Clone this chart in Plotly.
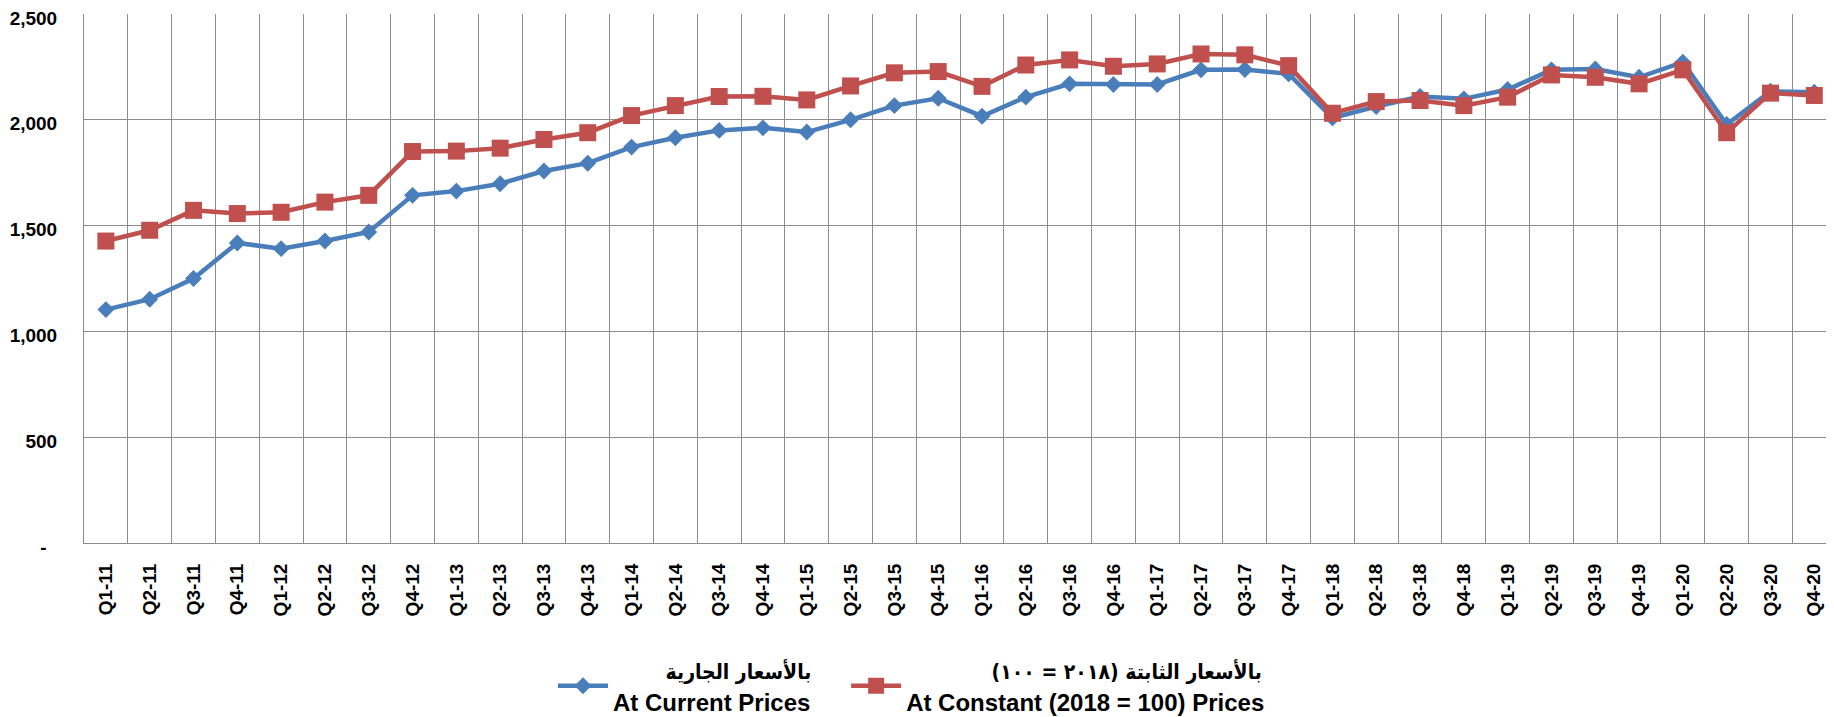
import plotly.graph_objects as go

quarters = [f"Q{q}-{y}" for y in range(11, 21) for q in range(1, 5)]

current_prices = [
    1103, 1152, 1250, 1418, 1391, 1427, 1470, 1643, 1663, 1698,
    1758, 1795, 1871, 1915, 1950, 1962, 1942, 2000, 2067, 2102,
    2017, 2107, 2170, 2167, 2167, 2236, 2238, 2217, 2009, 2063,
    2110, 2099, 2143, 2236, 2240, 2201, 2272, 1978, 2135, 2130,
]

constant_prices = [
    1427, 1478, 1572, 1557, 1563, 1611, 1643, 1850, 1852, 1866,
    1907, 1939, 2020, 2067, 2110, 2111, 2094, 2160, 2222, 2228,
    2158, 2259, 2283, 2253, 2264, 2311, 2307, 2256, 2031, 2086,
    2091, 2067, 2107, 2212, 2201, 2170, 2236, 1939, 2126, 2115,
]

arabic_labels = ["بالأسعار الجارية", "بالأسعار الثابتة (٢٠١٨ = ١٠٠)"]
english_labels = ["At Current Prices", "At Constant (2018 = 100) Prices"]

# Arabic line is right-aligned over the English line in the reference legend
ARABIC_SPAN = "<span style='font-family:DejaVu Sans Condensed, DejaVu Sans;font-size:21px'>{}{}</span>"
pads = [8, 13]
series_names = [
    ARABIC_SPAN.format("\u00a0" * p, a) + "<br>" + e
    for p, a, e in zip(pads, arabic_labels, english_labels)
]

y_tickvals = [0, 500, 1000, 1500, 2000, 2500]
y_ticktext = ["-\u00a0\u00a0", "500", "1,000", "1,500", "2,000", "2,500"]

BLUE = "#4A7EBB"
RED = "#C0504D"
GRID = "#8C8C8C"
FONT = "Liberation Sans, Arial, DejaVu Sans Condensed, DejaVu Sans, sans-serif"

fig = go.Figure()
fig.add_trace(go.Scatter(
    x=quarters, y=current_prices, name=series_names[0], mode="lines+markers",
    line=dict(color=BLUE, width=4.5),
    marker=dict(symbol="diamond", size=13, color=BLUE),
    legend="legend",
))
fig.add_trace(go.Scatter(
    x=quarters, y=constant_prices, name=series_names[1], mode="lines+markers",
    line=dict(color=RED, width=4.5),
    marker=dict(symbol="square", size=17, color=RED),
    legend="legend2",
))

legend_common = dict(
    orientation="h", xanchor="left", y=-0.1985, yanchor="top",
    font=dict(family=FONT, size=24, color="black", weight="bold"),
    itemwidth=50, bgcolor="rgba(0,0,0,0)",
)

# the page body has an 8px margin, so the figure is sized 8px smaller
fig.update_layout(
    width=1826, height=709,
    margin=dict(l=76, r=0, t=6, b=174, autoexpand=False),
    paper_bgcolor="white", plot_bgcolor="white",
    font=dict(family=FONT, color="black"),
    showlegend=True,
    legend=dict(x=0.268, **legend_common),
    legend2=dict(x=0.4355, **legend_common),
    xaxis=dict(
        type="category", range=[-0.5, 39.45], tickson="boundaries",
        showgrid=True, gridcolor=GRID, gridwidth=1,
        showline=True, linecolor=GRID, linewidth=1,
        ticks="", tickangle=-90, ticklabelstandoff=12, automargin=False,
        tickfont=dict(family=FONT, size=19, color="black", weight="bold"),
    ),
    yaxis=dict(
        range=[0, 2500], tickvals=y_tickvals, ticktext=y_ticktext,
        showgrid=True, gridcolor=GRID, gridwidth=1, zeroline=False,
        showline=True, linecolor=GRID, linewidth=1, mirror=False,
        ticks="", ticklabelstandoff=22, ticklabelshift=4, automargin=False,
        ticklabeloverflow="allow",
        tickfont=dict(family=FONT, size=19, color="black", weight="bold"),
    ),
)

fig.write_html("out.html")
